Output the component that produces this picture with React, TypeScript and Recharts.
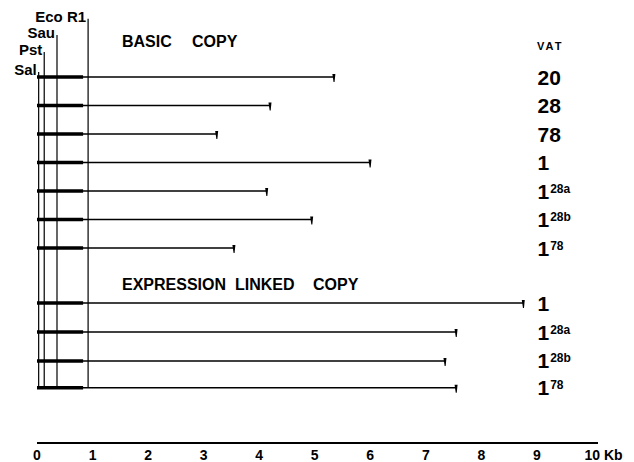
import React from "react";
import { ReferenceLine, Scatter, ScatterChart, XAxis, YAxis } from "recharts";

// restriction map rows (the two groups have a gap between them)
const ROW_POS = [0, 1, 2, 3, 4, 5, 6, 7.93, 8.95, 9.96, 10.9];
const ROW_END_KB = [5.35, 4.2, 3.24, 6.0, 4.14, 4.95, 3.55, 8.76, 7.55, 7.35, 7.55];
const VAT_MAIN = ["20", "28", "78", "1", "1", "1", "1", "1", "1", "1", "1"];
const VAT_SUP = ["", "", "", "", "28a", "28b", "78", "", "28a", "28b", "78"];

const SITE_NAMES = ["Sal", "Pst", "Sau", "Eco R1"];
const SITE_KB = [0.03, 0.13, 0.36, 0.92];
const THICK_END_KB = 0.83;

const KB_TICKS = [0, 1, 2, 3, 4, 5, 6, 7, 8, 9, 10];

// layout only
const SITE_TOP = [-0.18, -0.88, -1.47, -2.04];
const LABEL_KB = 9.01;
const FONT = "'Liberation Sans', Arial, Helvetica, sans-serif";

const lastPos = ROW_POS[ROW_POS.length - 1];

const rows = ROW_POS.map((pos, i) => ({
  y: pos,
  x: ROW_END_KB[i],
  main: VAT_MAIN[i],
  sup: VAT_SUP[i],
}));
const labelRows = rows.map((r) => ({ ...r, x: LABEL_KB }));

const EndMark = (props: any) => {
  const { cx, cy } = props;
  return (
    <path
      d={`M${cx - 1.8},${cy - 3} L${cx + 1.2},${cy - 3} L${cx + 0.4},${cy + 5} L${cx - 0.6},${cy + 5} Z`}
      fill="#000"
    />
  );
};

const VatLabel = (props: any) => {
  const { cx, cy, payload } = props;
  return (
    <text x={cx} y={cy + 7.5} fontFamily={FONT} fontWeight="bold" fontSize={21} fill="#000">
      {payload.main}
      {payload.sup ? (
        <tspan fontSize={12} dy={-6} dx={1}>
          {payload.sup}
        </tspan>
      ) : null}
    </text>
  );
};

const KbTick = (props: any) => {
  const { x, y, payload } = props;
  const last = payload.value === 10;
  return (
    <text
      x={last ? x - 8 : x}
      y={y}
      dy="0.71em"
      textAnchor={last ? "start" : "middle"}
      fontFamily={FONT}
      fontWeight="bold"
      fontSize={14}
      fill="#000"
    >
      {last ? "10 Kb" : payload.value}
    </text>
  );
};

const headStyle = { fontFamily: FONT, fontWeight: "bold", fontSize: 16, fill: "#000" } as const;

export default function App() {
  return (
    <div style={{ position: "absolute", left: 0, top: 0, width: 634, height: 462, background: "#fff" }}>
      <ScatterChart width={634} height={462} margin={{ top: 5.75, right: 36, bottom: 0, left: 37 }}>
        <XAxis
          type="number"
          dataKey="x"
          domain={[0, 10.1]}
          ticks={KB_TICKS}
          allowDataOverflow
          height={19}
          axisLine={{ stroke: "#000", strokeWidth: 2 }}
          tickLine={false}
          tickSize={4}
          tickMargin={3}
          tick={<KbTick />}
        />
        <YAxis type="number" dataKey="y" domain={[-2.5, 12.84]} reversed hide allowDataOverflow />

        {SITE_NAMES.map((name, i) => (
          <ReferenceLine
            key={name}
            segment={[
              { x: SITE_KB[i], y: SITE_TOP[i] },
              { x: SITE_KB[i], y: lastPos },
            ]}
            stroke="#000"
            strokeWidth={1.2}
            label={{
              content: (p: any) => (
                <text
                  x={p.viewBox.x - 2}
                  y={p.viewBox.y + 3}
                  textAnchor="end"
                  fontFamily={FONT}
                  fontWeight="bold"
                  fontSize={15}
                  fill="#000"
                >
                  {name}
                </text>
              ),
            }}
          />
        ))}

        {rows.map((r, i) => (
          <ReferenceLine
            key={"l" + i}
            segment={[
              { x: 0, y: r.y },
              { x: r.x, y: r.y },
            ]}
            stroke="#000"
            strokeWidth={1.5}
          />
        ))}
        {rows.map((r, i) => (
          <ReferenceLine
            key={"t" + i}
            segment={[
              { x: 0, y: r.y },
              { x: THICK_END_KB, y: r.y },
            ]}
            stroke="#000"
            strokeWidth={3.5}
          />
        ))}

        <Scatter data={rows} shape={<EndMark />} isAnimationActive={false} />
        <Scatter data={labelRows} shape={<VatLabel />} isAnimationActive={false} />

        <text x={122} y={47} {...headStyle}>BASIC</text>
        <text x={192} y={47} {...headStyle}>COPY</text>
        <text x={122} y={290} {...headStyle}>EXPRESSION</text>
        <text x={235} y={290} {...headStyle}>LINKED</text>
        <text x={313} y={290} {...headStyle}>COPY</text>
        <text x={537} y={50} fontFamily={FONT} fontWeight="bold" fontSize={11} letterSpacing={2} fill="#000">
          VAT
        </text>
      </ScatterChart>
    </div>
  );
}
